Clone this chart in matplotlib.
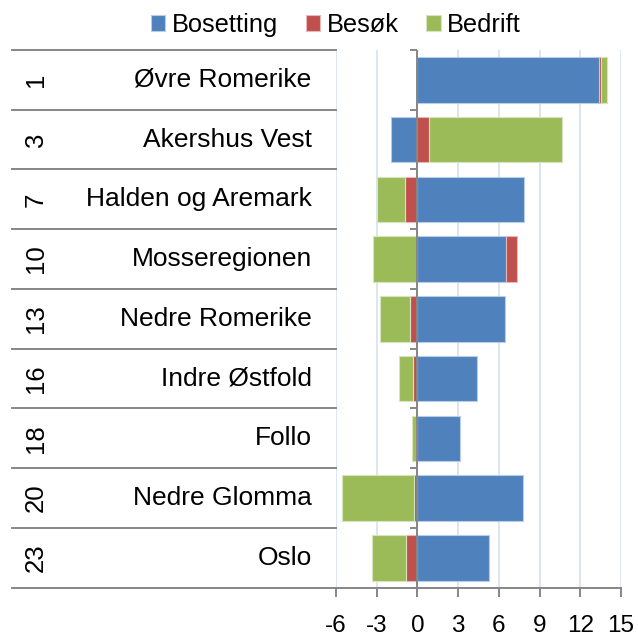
import matplotlib
matplotlib.use("Agg")
import matplotlib.pyplot as plt
import matplotlib.transforms as mtransforms
from matplotlib.lines import Line2D
import numpy as np

plt.rcParams['font.family'] = ['Liberation Sans', 'DejaVu Sans']

# Regions with their rank, top to bottom
ranks = ["1", "3", "7", "10", "13", "16", "18", "20", "23"]
regions = ["Øvre Romerike", "Akershus Vest", "Halden og Aremark", "Mosseregionen",
           "Nedre Romerike", "Indre Østfold", "Follo", "Nedre Glomma", "Oslo"]

series_names = ["Bosetting", "Besøk", "Bedrift"]
bosetting = [13.4, -1.95, 7.85, 6.5, 6.47, 4.42, 3.15, 7.77, 5.29]
besok = [0.15, 0.85, -0.93, 0.81, -0.54, -0.34, -0.12, -0.27, -0.83]
bedrift = [0.4, 9.8, -2.07, -3.29, -2.2, -1.03, -0.3, -5.27, -2.53]

x_ticks = [-6, -3, 0, 3, 6, 9, 12, 15]
x_ticklabels = ["-6", "-3", "0", "3", "6", "9", "12", "15"]

colors = ["#4F81BD", "#C0504D", "#9BBB59"]
edges = ["#B9CDE5", "#E6B9B8", "#D7E4BD"]
axis_gray = "#868686"
grid_color = "#DCE6F2"

fig = plt.figure(figsize=(6.38, 6.37), dpi=100)
ax = fig.add_axes([336 / 638, 1 - 587.7 / 637, (621 - 336) / 638, (587.7 - 50) / 637])

n = len(regions)
y = np.arange(n) + 0.5
pos_left = np.zeros(n)
neg_left = np.zeros(n)
for vals, name, c, ec in zip([bosetting, besok, bedrift], series_names, colors, edges):
    v = np.array(vals, dtype=float)
    left = np.where(v >= 0, pos_left, neg_left)
    ax.barh(y, v, left=left, height=0.76, color=c, edgecolor=ec, linewidth=0.8,
            label=name, zorder=3)
    pos_left = pos_left + np.where(v >= 0, v, 0)
    neg_left = neg_left + np.where(v < 0, v, 0)

ax.set_xlim(x_ticks[0], x_ticks[-1])
ax.set_ylim(n, 0)

# vertical gridlines
for xt in x_ticks:
    ax.axvline(xt, color=grid_color, lw=1.4, zorder=1)

# category axis at zero with boundary ticks
ax.axvline(0, color=axis_gray, lw=1.4, zorder=4)
tick_len = 7 / 13.56
bounds = np.arange(n + 1)
ax.hlines(bounds, -tick_len, 0, color=axis_gray, lw=1.4, zorder=4, clip_on=False)

# row separators in the label area
trans = mtransforms.blended_transform_factory(ax.transAxes, ax.transData)
x_start = (12 - 336) / 285
for b in bounds:
    ax.add_line(Line2D([x_start, 0], [b, b], transform=trans, color=axis_gray,
                       lw=1.4, clip_on=False))

# category labels
for yi, r, name in zip(y, ranks, regions):
    ax.text((36 - 336) / 285, yi, r, transform=trans, rotation=90,
            ha="center", va="center", fontsize=18.5)
    ax.text((311.7 - 336) / 285, yi, name, transform=trans,
            ha="right", va="center", fontsize=19)

for s in ["left", "top", "right"]:
    ax.spines[s].set_visible(False)
ax.spines["bottom"].set_color(axis_gray)
ax.spines["bottom"].set_linewidth(1.4)
ax.set_yticks([])
ax.set_xticks(x_ticks)
ax.set_xticklabels(x_ticklabels, fontsize=17.5)
ax.tick_params(axis="x", length=6.5, width=1.4, color=axis_gray, pad=13)

ax.legend(loc="center", bbox_to_anchor=(336 / 638, 1 - 25 / 637),
          bbox_transform=fig.transFigure, ncol=3, frameon=False, fontsize=18.3,
          handlelength=0.56, handleheight=0.56, handletextpad=0.25,
          columnspacing=1.1, borderaxespad=0)

fig.savefig("out.png", dpi=100)
